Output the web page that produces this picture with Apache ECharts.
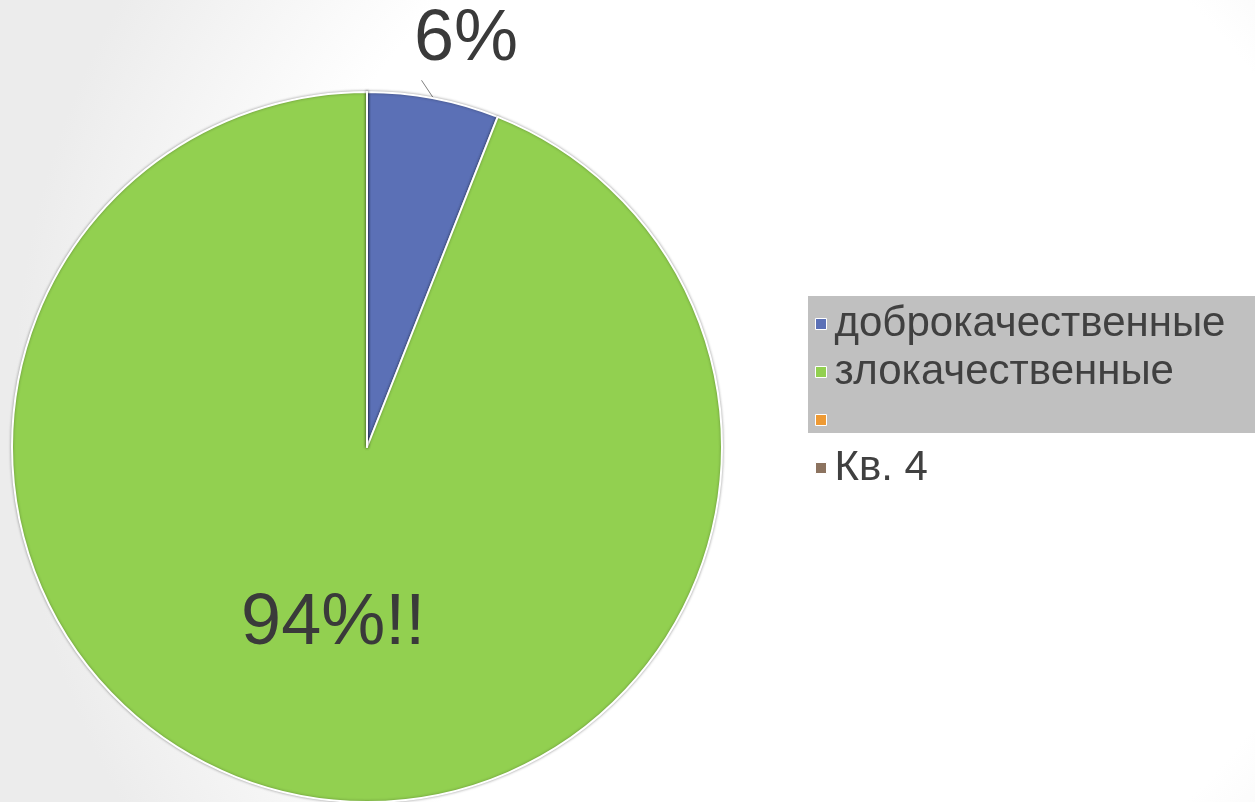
<!DOCTYPE html>
<html>
<head>
<meta charset="UTF-8">
<title>Доброкачественные и злокачественные</title>
<script src="https://cdn.jsdelivr.net/npm/echarts@6/dist/echarts.min.js"></script>
<style>
  html, body { margin: 0; padding: 0; }
  #chartmain { width: 1255px; height: 802px; }
</style>
</head>
<body>
<div id="chartmain"></div>
<script>
// данные
var names = ['доброкачественные', 'злокачественные', ' ', 'Кв. 4'];
var values = [6, 94, 0, 0];
var labels = ['6%', '94%!!', '', ''];
var colors = ['#5b70b6', '#92d050', '#ee9a34', '#8c735f'];

var mychart = echarts.init(document.getElementById('chartmain'));

var pieData = [];
for (var i = 0; i < names.length; i++) {
    var item = { name: names[i], value: values[i], itemStyle: { color: colors[i] } };
    if (i === 0) {
        item.label = { show: true, position: 'outside' };
        item.labelLine = { show: true };
    } else if (i === 1) {
        item.label = { show: true, position: 'inside' };
        item.labelLine = { show: false };
    } else {
        item.label = { show: false };
        item.labelLine = { show: false };
    }
    pieData.push(item);
}

var option = {
    animation: false,
    graphic: [
        {   // фон слайда
            type: 'rect', z: -10, silent: true,
            shape: { x: 0, y: 0, width: 1255, height: 802 },
            style: {
                fill: {
                    type: 'radial', x: 0.65, y: 0.5, r: 1.0,
                    colorStops: [
                        { offset: 0, color: '#ffffff' },
                        { offset: 0.68, color: '#ffffff' },
                        { offset: 1, color: '#ececec' }
                    ]
                }
            }
        },
        {   // серая подложка легенды
            type: 'rect', z: 1, silent: true,
            shape: { x: 808, y: 296, width: 447, height: 137 },
            style: { fill: '#c0c0c0' }
        }
    ],
    legend: {
        orient: 'vertical',
        left: 810,
        top: 298,
        z: 5,
        data: names,
        icon: 'rect',
        itemWidth: 11,
        itemHeight: 11,
        itemGap: 6,
        itemStyle: { borderColor: '#ffffff', borderWidth: 1 },
        textStyle: {
            fontFamily: 'Liberation Sans',
            fontSize: 42,
            lineHeight: 41,
            color: '#404040',
            padding: [0, 0, 0, 3]
        }
    },
    series: [{
        type: 'pie',
        center: [367, 447],
        radius: 355,
        startAngle: 90,
        clockwise: true,
        avoidLabelOverlap: false,
        itemStyle: {
            borderColor: '#ffffff',
            borderWidth: 2,
            shadowBlur: 3,
            shadowColor: 'rgba(0,0,0,0.35)'
        },
        label: {
            fontFamily: 'Liberation Sans',
            fontSize: 72,
            color: '#3a3a3a',
            formatter: function (p) { return labels[p.dataIndex]; }
        },
        labelLine: {
            length: 18,
            length2: 0,
            lineStyle: { color: '#808080', width: 1 }
        },
        labelLayout: function (p) {
            if (p.dataIndex === 0) {
                var res = { x: 466, y: 40, align: 'center', verticalAlign: 'middle' };
                if (p.labelLinePoints && p.labelLinePoints.length) {
                    var p0 = p.labelLinePoints[0];
                    res.labelLinePoints = [p0, [p0[0] - 12, p0[1] - 18]];
                }
                return res;
            }
        },
        emphasis: { disabled: true },
        data: pieData
    }]
};
mychart.setOption(option);
</script>
</body>
</html>
